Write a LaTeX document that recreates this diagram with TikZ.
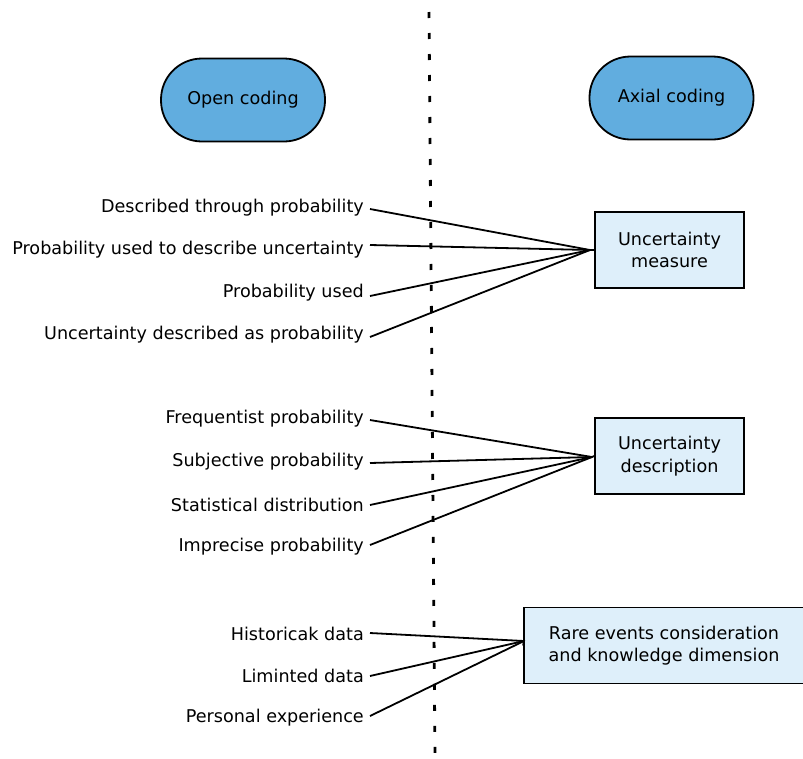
\documentclass[tikz,border=0pt]{standalone}
\usepackage{fontspec}
\setmainfont{DejaVu Sans}
\definecolor{pillblue}{RGB}{97,173,223}
\definecolor{boxblue}{RGB}{222,239,250}
\begin{document}
\begin{tikzpicture}[x=1pt,y=-1pt,
  txt/.style={font=\fontsize{17.6}{22.5}\selectfont},
  pill/.style={txt,draw=black,line width=1.8pt,fill=pillblue,rounded corners=41pt,minimum width=164pt,minimum height=83pt},
  catbox/.style={txt,draw=black,line width=1.8pt,fill=boxblue,minimum height=76pt,align=center},
  lbl/.style={txt,anchor=east,inner sep=0pt},
  link/.style={line width=1.8pt}]
\useasboundingbox (0,0) rectangle (803,758);
\draw[line width=2.8pt,dash pattern=on 6pt off 15pt] (429,12) -- (435,758);
\node[pill] (open) at (243,100) {Open coding};
\node[pill] (axial) at (671.5,98) {Axial coding};
\node[catbox,minimum width=149pt] (b1) at (669.5,250) {Uncertainty\\ measure};
\node[catbox,minimum width=149pt] (b2) at (669.5,456) {Uncertainty\\description};
\node[catbox,minimum width=280pt] (b3) at (664,645.5) {Rare events consideration\\and knowledge dimension};
\coordinate (c1) at (590,250);
\coordinate (c2) at (592,457);
\coordinate (c3) at (524,641);
\node[lbl] (t1) at (364,208) {Described through probability};
\node[lbl] (t2) at (364,250) {Probability used to describe uncertainty};
\node[lbl] (t3) at (364,293) {Probability used};
\node[lbl] (t4) at (364,335) {Uncertainty described as probability};
\node[lbl] (t5) at (364,419) {Frequentist probability};
\node[lbl] (t6) at (364,462) {Subjective probability};
\node[lbl] (t7) at (364,505) {Statistical distribution};
\node[lbl] (t8) at (364,547) {Imprecise probability};
\node[lbl] (t9) at (364,634) {Historicak data};
\node[lbl] (t10) at (364,676) {Liminted data};
\node[lbl] (t11) at (364,718) {Personal experience};
\draw[link] ([shift={(6,1)}]t1.east) -- (c1) -- (b1.west);
\draw[link] ([shift={(6,-5)}]t2.east) -- (c1);
\draw[link] ([shift={(6,3)}]t3.east) -- (c1);
\draw[link] ([shift={(6,2)}]t4.east) -- (c1);
\draw[link] ([shift={(6,1)}]t5.east) -- (c2) -- (b2.west);
\draw[link] ([shift={(6,1)}]t6.east) -- (c2);
\draw[link] ([shift={(6,0)}]t7.east) -- (c2);
\draw[link] ([shift={(6,-2)}]t8.east) -- (c2);
\draw[link] ([shift={(6,-1)}]t9.east) -- (c3) -- (b3.west);
\draw[link] ([shift={(6,0)}]t10.east) -- (c3);
\draw[link] ([shift={(6,-2)}]t11.east) -- (c3);
\end{tikzpicture}
\end{document}
